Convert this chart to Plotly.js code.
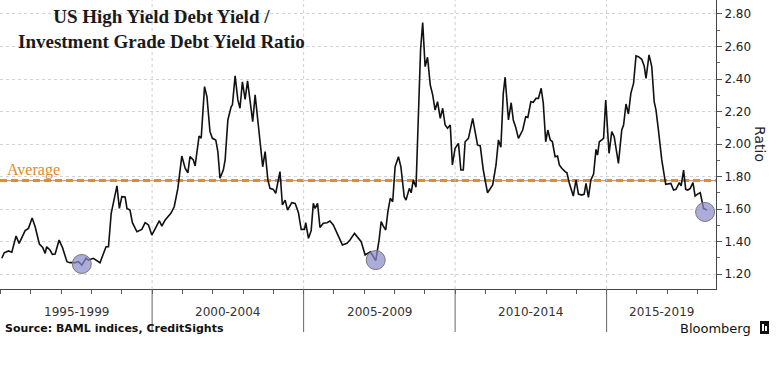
<!DOCTYPE html>
<html>
<head>
<meta charset="utf-8">
<script src="https://cdn.plot.ly/plotly-3.0.1.min.js"></script>
<style>
  html, body { margin: 0; padding: 0; background: #fff; }
  #chart { width: 776px; height: 365px; }
</style>
</head>
<body>
<div id="chart"></div>
<script>
// ---- Data ----
const years = [
  1995.04,1995.12,1995.26,1995.37,1995.51,1995.61,1995.81,1995.92,1996.04,1996.14,
  1996.28,1996.39,1996.47,1996.52,1996.63,1996.71,1996.80,1996.93,1997.04,1997.19,
  1997.29,1997.46,1997.57,1997.68,1997.82,1997.90,1998.06,1998.28,1998.48,1998.56,
  1998.65,1998.84,1998.92,1999.00,1999.11,1999.17,1999.27,1999.35,1999.50,1999.66,
  1999.77,1999.88,1999.99,2000.12,2000.24,2000.32,2000.43,2000.62,2000.73,2000.85,
  2000.98,2001.09,2001.18,2001.25,2001.36,2001.42,2001.55,2001.62,2001.73,2001.81,
  2001.91,2001.99,2002.10,2002.17,2002.24,2002.35,2002.41,2002.50,2002.61,2002.65,
  2002.74,2002.83,2002.90,2002.98,2003.07,2003.15,2003.23,2003.32,2003.40,2003.51,
  2003.60,2003.65,2003.73,2003.82,2003.89,2004.00,2004.08,2004.17,2004.22,2004.30,
  2004.39,2004.47,2004.61,2004.72,2004.83,2004.92,2005.03,2005.07,2005.16,2005.25,
  2005.32,2005.38,2005.46,2005.54,2005.65,2005.77,2005.87,2005.98,2006.13,2006.28,
  2006.43,2006.53,2006.68,2006.76,2006.90,2007.03,2007.20,2007.27,2007.38,2007.49,
  2007.56,2007.63,2007.71,2007.78,2007.86,2007.94,2008.02,2008.13,2008.21,2008.32,
  2008.38,2008.49,2008.55,2008.62,2008.71,2008.86,2008.93,2009.01,2009.09,2009.18,
  2009.26,2009.34,2009.42,2009.51,2009.59,2009.67,2009.75,2009.84,2009.91,2010.00,
  2010.11,2010.19,2010.27,2010.33,2010.44,2010.58,2010.74,2010.83,2010.93,2011.07,
  2011.24,2011.35,2011.43,2011.51,2011.59,2011.65,2011.76,2011.85,2011.92,2012.00,
  2012.09,2012.23,2012.33,2012.40,2012.50,2012.58,2012.67,2012.75,2012.84,2012.91,
  2012.99,2013.06,2013.14,2013.21,2013.30,2013.38,2013.44,2013.52,2013.57,2013.63,
  2013.69,2013.77,2013.90,2013.99,2014.07,2014.18,2014.26,2014.32,2014.40,2014.48,
  2014.57,2014.65,2014.70,2014.76,2014.84,2014.90,2014.97,2015.08,2015.17,2015.25,
  2015.39,2015.50,2015.56,2015.64,2015.72,2015.80,2015.89,2015.97,2016.05,2016.16,
  2016.24,2016.30,2016.40,2016.49,2016.57,2016.63,2016.71,2016.82,2016.95,2017.04,
  2017.12,2017.21,2017.29,2017.40,2017.46,2017.54,2017.61,2017.68,2017.76,2017.85,
  2017.92,2018.00,2018.09,2018.20,2018.31
];
const ratio = [
  1.297,1.331,1.342,1.334,1.434,1.389,1.467,1.481,1.545,1.491,
  1.385,1.364,1.327,1.368,1.348,1.321,1.323,1.409,1.364,1.276,
  1.270,1.270,1.276,1.255,1.297,1.286,1.297,1.270,1.368,1.368,
  1.574,1.743,1.604,1.676,1.674,1.604,1.594,1.516,1.460,1.475,
  1.516,1.502,1.440,1.481,1.528,1.495,1.532,1.574,1.614,1.727,
  1.926,1.851,1.823,1.922,1.902,1.865,2.049,2.035,2.353,2.291,
  2.076,2.035,2.025,1.953,1.789,1.840,1.902,2.148,2.230,2.240,
  2.419,2.271,2.220,2.383,2.275,2.388,2.271,2.137,2.302,2.107,
  1.974,1.860,1.953,1.779,1.727,1.721,1.697,1.799,1.830,1.625,
  1.655,1.594,1.639,1.635,1.577,1.475,1.475,1.516,1.420,1.467,
  1.635,1.604,1.635,1.487,1.512,1.516,1.526,1.502,1.440,1.379,
  1.389,1.409,1.450,1.430,1.399,1.317,1.337,1.317,1.282,1.409,
  1.522,1.495,1.471,1.583,1.666,1.645,1.860,1.922,1.860,1.676,
  1.655,1.727,1.700,1.779,1.735,2.579,2.747,2.476,2.534,2.363,
  2.302,2.209,2.260,2.158,2.220,2.117,2.097,2.117,1.871,1.974,
  2.004,1.840,1.840,2.014,2.035,2.158,1.994,1.988,1.840,1.700,
  1.748,1.871,2.025,1.980,2.312,2.411,2.148,2.254,2.148,2.103,
  2.035,2.086,2.168,2.164,2.260,2.257,2.281,2.281,2.343,2.251,
  2.014,2.086,2.025,2.014,1.922,1.926,1.871,1.851,1.840,1.830,
  1.823,1.758,1.680,1.779,1.692,1.686,1.692,1.758,1.672,1.779,
  1.815,1.967,1.932,2.014,2.025,2.035,2.271,1.943,2.076,2.045,
  1.881,2.086,2.117,2.246,2.185,2.312,2.374,2.542,2.537,2.521,
  2.480,2.404,2.548,2.476,2.260,2.209,2.086,1.902,1.752,1.754,
  1.758,1.717,1.721,1.762,1.742,1.840,1.721,1.717,1.727,1.762,
  1.680,1.692,1.700,1.604,1.594
];
const averageRatio = 1.775;
const highlightYears = [1997.68, 2007.38, 2018.25];
const highlightRatio = [1.262, 1.286, 1.582];
const periodStarts = [1995, 2000, 2005, 2010, 2015];
const periodLabels = ['1995-1999', '2000-2004', '2005-2009', '2010-2014', '2015-2019'];
const yTickValues = [1.2, 1.4, 1.6, 1.8, 2.0, 2.2, 2.4, 2.6, 2.8];

// ---- Chart ----
const xMin = 1994.98, xMax = 2018.61;
const plotH = 289; // px height of plot area
const py = p => (plotH - p) / plotH; // pixel row -> paper y

const traces = [
  {
    x: years, y: ratio, type: 'scatter', mode: 'lines',
    line: { color: '#111', width: 1.6 }, hoverinfo: 'skip', showlegend: false
  },
  {
    x: highlightYears, y: highlightRatio, type: 'scatter', mode: 'markers',
    marker: { size: 19, color: 'rgba(140,140,205,0.72)', line: { color: '#777', width: 1 } },
    hoverinfo: 'skip', showlegend: false
  }
];

const shapes = [];
// average line: thin grey under orange dashes
shapes.push({ type: 'line', xref: 'paper', x0: 0, x1: 1, yref: 'y', y0: averageRatio, y1: averageRatio,
  line: { color: '#a8a8a8', width: 1.2 }, layer: 'between' });
shapes.push({ type: 'line', xref: 'paper', x0: 0, x1: 1, yref: 'y', y0: averageRatio, y1: averageRatio,
  line: { color: '#e8892b', width: 3, dash: '7px,4px' }, layer: 'between' });

periodStarts.slice(1).forEach(s => {
  // dotted vertical grid inside plot
  shapes.push({ type: 'line', xref: 'x', x0: s, x1: s, yref: 'paper', y0: 0, y1: 1,
    line: { color: '#cfcfcf', width: 1, dash: 'dot' }, layer: 'below' });
  // separator below axis
  shapes.push({ type: 'line', xref: 'x', x0: s, x1: s, yref: 'paper', y0: 0, y1: py(332),
    line: { color: '#666', width: 1 } });
});

// Bloomberg icon
const pxX = p => p / 716;
shapes.push({ type: 'rect', xref: 'paper', yref: 'paper', x0: pxX(760), x1: pxX(769), y0: py(334), y1: py(321),
  fillcolor: '#111', line: { width: 0 } });
shapes.push({ type: 'rect', xref: 'paper', yref: 'paper', x0: pxX(762), x1: pxX(764), y0: py(331), y1: py(324),
  fillcolor: '#fff', line: { width: 0 } });
shapes.push({ type: 'rect', xref: 'paper', yref: 'paper', x0: pxX(765), x1: pxX(767), y0: py(331), y1: py(326),
  fillcolor: '#fff', line: { width: 0 } });

const annotations = [];
annotations.push({
  text: '<b>US High Yield Debt Yield /<br>Investment Grade Debt Yield Ratio</b>',
  xref: 'paper', yref: 'paper', x: pxX(161.5), y: py(4), xanchor: 'center', yanchor: 'top',
  showarrow: false, align: 'center',
  font: { family: 'Liberation Serif, serif', size: 19, color: '#1a1a1a' }
});
annotations.push({
  text: 'Average', xref: 'paper', yref: 'y', x: pxX(5), y: averageRatio, yshift: 11,
  xanchor: 'left', yanchor: 'middle', showarrow: false,
  font: { family: 'Liberation Serif, serif', size: 16, color: '#e08a2b' }
});
annotations.push({
  text: 'Ratio', xref: 'paper', yref: 'paper', x: pxX(760), y: py(144), textangle: 90,
  xanchor: 'center', yanchor: 'middle', showarrow: false,
  font: { family: 'DejaVu Sans, sans-serif', size: 14, color: '#222' }
});
periodStarts.forEach((s, i) => {
  const end = Math.min(s + 5, xMax);
  annotations.push({
    text: periodLabels[i], xref: 'x', yref: 'paper', x: (s + end) / 2, y: py(312),
    xanchor: 'center', yanchor: 'middle', showarrow: false,
    font: { family: 'DejaVu Sans, sans-serif', size: 12, color: '#333' }
  });
});
annotations.push({
  text: '<b>Source: BAML indices, CreditSights</b>', xref: 'paper', yref: 'paper',
  x: pxX(3), y: py(328), xanchor: 'left', yanchor: 'middle', showarrow: false,
  font: { family: 'DejaVu Sans, sans-serif', size: 11, color: '#111' }
});
annotations.push({
  text: 'Bloomberg', xref: 'paper', yref: 'paper', x: pxX(753), y: py(328),
  xanchor: 'right', yanchor: 'middle', showarrow: false,
  font: { family: 'DejaVu Sans, sans-serif', size: 13, color: '#111' }
});

const layout = {
  width: 776, height: 365,
  margin: { l: 0, r: 60, t: 0, b: 76, pad: 0 },
  paper_bgcolor: '#fff', plot_bgcolor: '#fff',
  showlegend: false,
  xaxis: {
    type: 'linear', range: [xMin, xMax], showgrid: false, zeroline: false,
    showline: true, linecolor: '#444', linewidth: 1,
    tickmode: 'linear', tick0: 1995, dtick: 1, ticks: 'outside', ticklen: 4,
    tickcolor: '#555', showticklabels: false, fixedrange: true
  },
  yaxis: {
    side: 'right', range: [1.108, 2.886], zeroline: false,
    showline: true, linecolor: '#444', linewidth: 1,
    tickmode: 'array', tickvals: yTickValues, tickformat: '.2f',
    ticks: 'outside', ticklen: 5, tickcolor: '#555',
    minor: { dtick: 0.1, tick0: 1.1, ticks: 'outside', ticklen: 3, tickcolor: '#666', showgrid: false },
    showgrid: true, gridcolor: '#d2d2d2', griddash: 'dot', gridwidth: 1,
    tickfont: { family: 'DejaVu Sans, sans-serif', size: 12, color: '#222' },
    fixedrange: true
  },
  shapes: shapes,
  annotations: annotations
};

Plotly.newPlot('chart', traces, layout, { displayModeBar: false, staticPlot: true });
</script>
</body>
</html>
